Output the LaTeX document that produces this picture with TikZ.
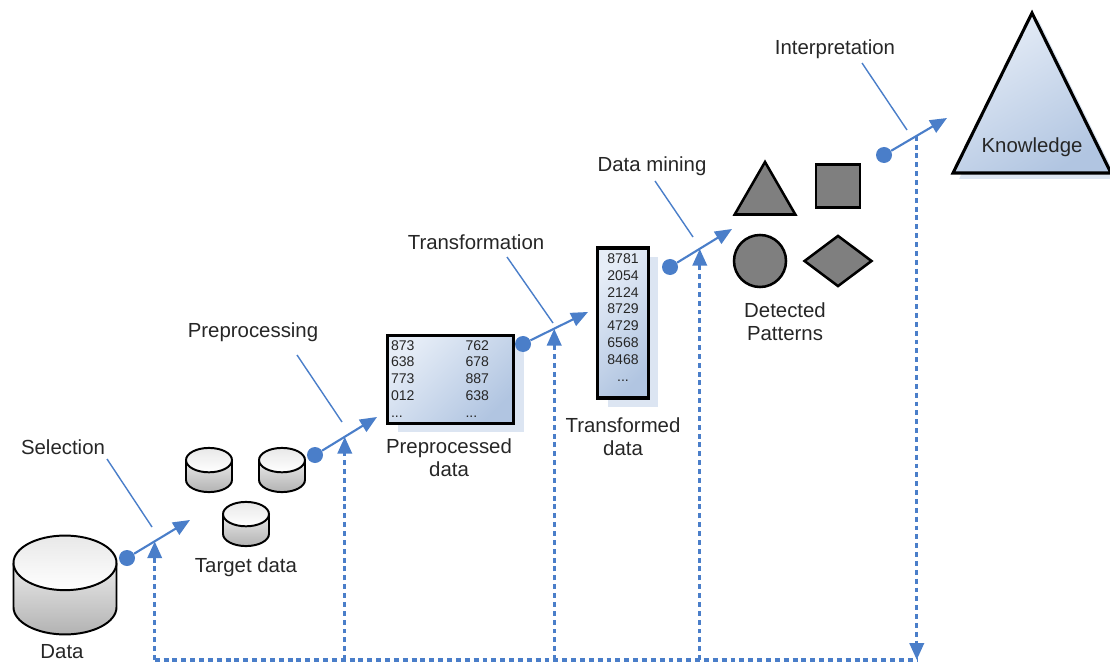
\documentclass[tikz,border=0pt]{standalone}
\usepackage{fontspec}
\setmainfont{Liberation Sans}
\usetikzlibrary{arrows.meta, positioning, shapes.geometric, shadows, calc}
\definecolor{flowblue}{HTML}{4A7EC9}
\definecolor{txtgray}{HTML}{262626}
\definecolor{boxlight}{HTML}{E6EDF7}
\definecolor{boxdark}{HTML}{B1C5E1}
\definecolor{shadowblue}{HTML}{DCE5F2}
\definecolor{patgray}{HTML}{7F7F7F}
\tikzset{
    lbl/.style={font=\fontsize{14.5}{16.5}\selectfont, text=txtgray, align=center},
    nums/.style={font=\fontsize{10}{12}\selectfont, text=txtgray, inner sep=0pt},
    dbcyl/.pic={
      \path[top color=white, bottom color=gray!60]
        (-1,-0.43) -- (-1,0.43) arc[start angle=180, end angle=0, x radius=1, y radius=0.53]
        -- (1,-0.43) arc[start angle=0, end angle=-180, x radius=1, y radius=0.53] -- cycle;
      \draw[line width=1.4pt]
        (-1,-0.43) -- (-1,0.43) arc[start angle=180, end angle=0, x radius=1, y radius=0.53] -- (1,-0.43);
      \draw[line width=1.4pt, top color=gray!18, bottom color=white]
        (0,-0.43) ellipse[x radius=1, y radius=0.53];
    },
    databox/.style={draw=black, line width=2.2pt, top color=boxlight, bottom color=boxdark, shading angle=45,
        general shadow={fill=shadowblue, shadow xshift=0.25cm, shadow yshift=-0.22cm}, inner sep=0pt},
    shapegray/.style={draw=black, line width=1.8pt, fill=patgray, inner sep=0pt},
    dot/.style={circle, fill=flowblue, minimum size=0.4cm, inner sep=0pt},
    stepline/.style={flowblue, line width=1.5pt, -{Triangle[length=12pt, width=10pt]}},
    callout/.style={flowblue, line width=1pt},
    fbline/.style={flowblue, line width=2.4pt, dash pattern=on 3.5pt off 2.8pt},
    feedback/.style={fbline, -{Triangle[length=12pt, width=10pt]}},
}

\begin{document}
\begin{tikzpicture}[x=0.025cm, y=-0.025cm]
    \useasboundingbox (0,0) rectangle (1110,662);

    \pic[scale=51.5] (data) at (65,585) {dbcyl};
    \node[lbl] (datalbl) at (62,652) {Data};

    \pic[scale=23] (tg1) at (209,470) {dbcyl};
    \pic[scale=23] (tg2) at (282,470) {dbcyl};
    \pic[scale=23] (tg3) at (246,524) {dbcyl};
    \node[lbl] (tglbl) at (246,567) {Target data};

    \node[databox, minimum width=3.15cm, minimum height=2.2cm, anchor=north west] (prep) at (386,334) {};
    \node[nums, anchor=north west, align=left] (prepl) at ([xshift=0.12cm, yshift=-0.15cm]prep.north west) {873\\638\\773\\012\\...};
    \node[nums, anchor=north west, align=left] (prepr) at ([xshift=1.98cm, yshift=-0.15cm]prep.north west) {762\\678\\887\\638\\...};
    \node[lbl] (preplbl) at (449,458) {Preprocessed\\data};

    \node[databox, minimum width=1.27cm, minimum height=3.75cm] (trans) at (623,323) {};
    \node[nums, anchor=north, align=center] (transn) at ([yshift=-0.17cm]trans.north) {8781\\2054\\2124\\8729\\4729\\6568\\8468\\...};
    \node[lbl] (translbl) at (623,437) {Transformed\\data};

    \node[shapegray, regular polygon, regular polygon sides=3, minimum size=1.75cm] (ptri) at (765,197) {};
    \node[shapegray, minimum width=1.1cm, minimum height=1.08cm] (psq) at (838,186) {};
    \node[shapegray, circle, minimum size=1.3cm] (pcirc) at (760,261) {};
    \node[shapegray, diamond, minimum width=1.7cm, minimum height=1.28cm] (pdia) at (838,261) {};
    \node[lbl] (patlbl) at (785,322) {Detected\\Patterns};

    \coordinate (kapex) at (1032,13);
    \coordinate (kleft) at (953,173);
    \coordinate (kright) at (1111,173);
    \filldraw[draw=black, line width=2.2pt, top color=boxlight, bottom color=boxdark, shading angle=30,
        general shadow={fill=shadowblue, shadow xshift=0.15cm, shadow yshift=-0.15cm}]
        (kapex) -- (kleft) -- (kright) -- cycle;
    \node[lbl] (know) at (1032,147) {Knowledge};

    \node[dot] (d1) at (127,558) {};
    \coordinate (t1) at (190,520);
    \draw[stepline] (d1) -- (t1);
    \node[dot] (d2) at (315,455) {};
    \coordinate (t2) at (377,417);
    \draw[stepline] (d2) -- (t2);
    \node[dot] (d3) at (523,344) {};
    \coordinate (t3) at (588,312);
    \draw[stepline] (d3) -- (t3);
    \node[dot] (d4) at (670,267) {};
    \coordinate (t4) at (732,229);
    \draw[stepline] (d4) -- (t4);
    \node[dot] (d5) at (884,155) {};
    \coordinate (t5) at (947,118);
    \draw[stepline] (d5) -- (t5);

    \node[lbl] (sel) at (63,447) {Selection};
    \coordinate (s1) at (107,459);
    \coordinate (e1) at (152,527);
    \draw[callout] (s1) -- (e1);
    \node[lbl] (pre) at (253,332) {Preprocessing};
    \coordinate (s2) at (297,355);
    \coordinate (e2) at (342,422);
    \draw[callout] (s2) -- (e2);
    \node[lbl] (tra) at (476,242) {Transformation};
    \coordinate (s3) at (507,257);
    \coordinate (e3) at (553,323);
    \draw[callout] (s3) -- (e3);
    \node[lbl] (min) at (652,166) {Data mining};
    \coordinate (s4) at (655,181);
    \coordinate (e4) at (693,237);
    \draw[callout] (s4) -- (e4);
    \node[lbl] (int) at (835,49) {Interpretation};
    \coordinate (s5) at (862,63);
    \coordinate (e5) at (907,130);
    \draw[callout] (s5) -- (e5);

    \coordinate (base) at (0,660);
    \coordinate (h1) at ($(d1)!0.44!(t1)$);
    \coordinate (h2) at ($(d2)!0.48!(t2)$);
    \coordinate (h3) at ($(d3)!0.48!(t3)$);
    \coordinate (h4) at ($(d4)!0.48!(t4)$);
    \coordinate (h5) at ($(d5)!0.52!(t5)$);
    \draw[fbline] (h1 |- base) -- (h5 |- base);
    \draw[feedback] (h1 |- base) -- (h1);
    \draw[feedback] (h2 |- base) -- (h2);
    \draw[feedback] (h3 |- base) -- (h3);
    \draw[feedback] (h4 |- base) -- (h4);
    \draw[feedback] (h5) -- (h5 |- base);
\end{tikzpicture}
\end{document}
